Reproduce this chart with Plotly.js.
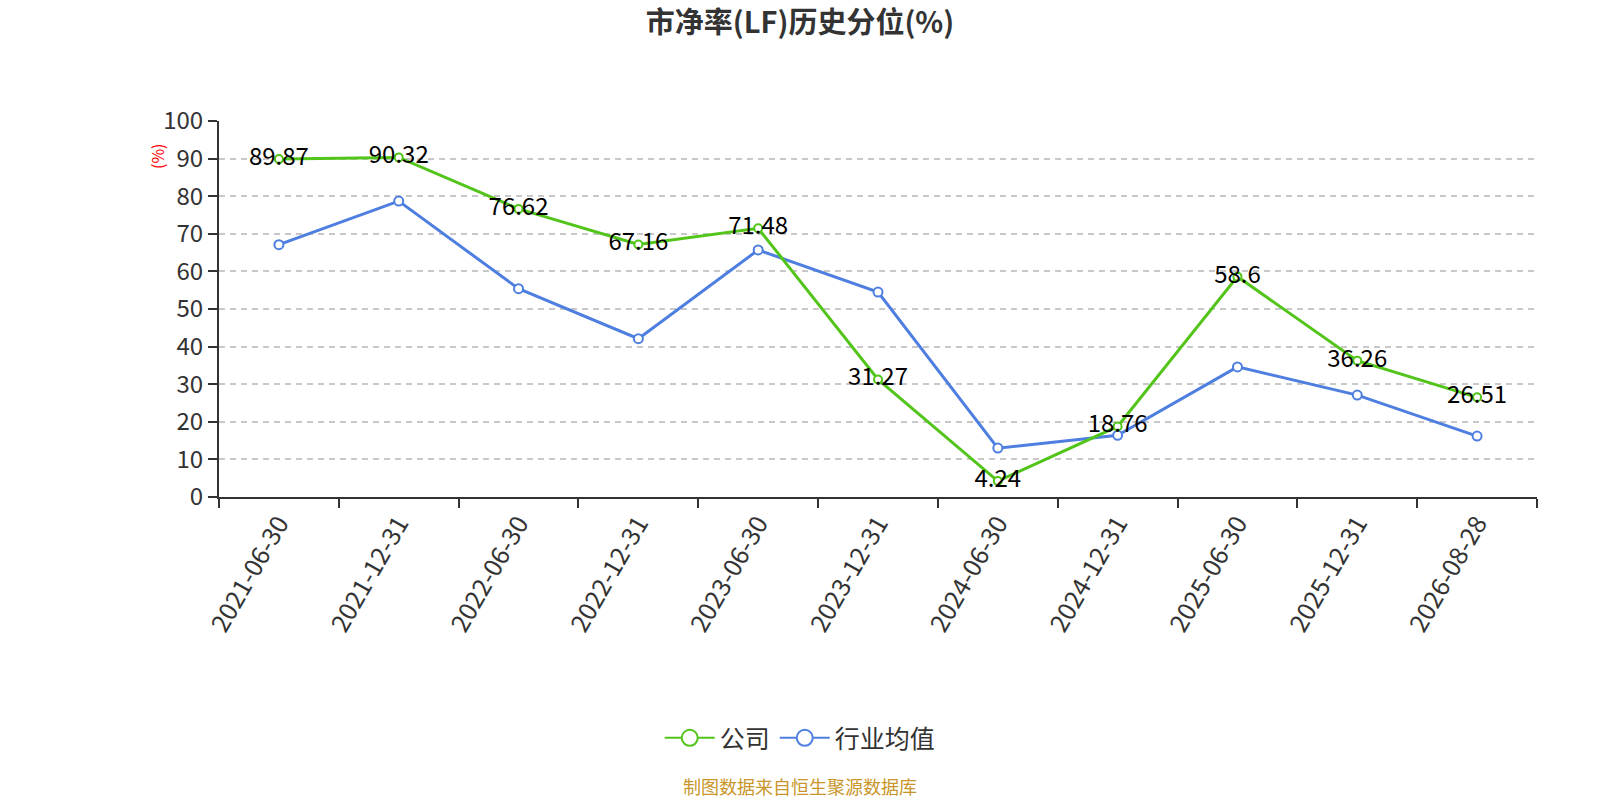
<!DOCTYPE html>
<html>
<head>
<meta charset="utf-8">
<script src="https://cdn.plot.ly/plotly-3.0.1.min.js"></script>
<style>
  html, body { margin: 0; padding: 0; background: #fff; }
  #myDiv { width: 1600px; height: 800px; }
</style>
</head>
<body>
<div id="myDiv"></div>
<script>
var dates = ['2021-06-30', '2021-12-31', '2022-06-30', '2022-12-31', '2023-06-30', '2023-12-31',
             '2024-06-30', '2024-12-31', '2025-06-30', '2025-12-31', '2026-08-28'];
var company = [89.87, 90.32, 76.62, 67.16, 71.48, 31.27, 4.24, 18.76, 58.6, 36.26, 26.51];
var industry = [67.1, 78.7, 55.4, 42.1, 65.7, 54.5, 13.0, 16.4, 34.6, 27.1, 16.2];

var font = 'Noto Sans CJK SC, Noto Sans, sans-serif';
var green = '#52c41a';
var blue = '#4e7fe0';

// the lines themselves, kept out of the legend
var trace1 = {
  x: dates,
  y: company,
  name: '公司',
  type: 'scatter',
  mode: 'lines+markers+text',
  text: company.map(String),
  textposition: 'middle center',
  textfont: { family: font, size: 24, color: '#000' },
  line: { color: green, width: 3 },
  marker: { symbol: 'circle', size: 8, color: '#fff', line: { color: green, width: 2 } },
  cliponaxis: false,
  showlegend: false
};

var trace2 = {
  x: dates,
  y: industry,
  name: '行业均值',
  type: 'scatter',
  mode: 'lines+markers',
  line: { color: blue, width: 3 },
  marker: { symbol: 'circle', size: 9, color: '#fff', line: { color: blue, width: 2 } },
  cliponaxis: false,
  showlegend: false
};

// legend entries with bigger symbols
var leg1 = {
  x: [null], y: [null], name: '公司', type: 'scatter', mode: 'lines+markers',
  line: { color: green, width: 2 },
  marker: { symbol: 'circle', size: 16, color: '#fff', line: { color: green, width: 2 } }
};
var leg2 = {
  x: [null], y: [null], name: '行业均值', type: 'scatter', mode: 'lines+markers',
  line: { color: blue, width: 2 },
  marker: { symbol: 'circle', size: 16, color: '#fff', line: { color: blue, width: 2 } }
};

var data = [trace2, trace1, leg1, leg2];

var layout = {
  width: 1600,
  height: 800,
  paper_bgcolor: '#fff',
  plot_bgcolor: '#fff',
  font: { family: font, color: '#333' },
  margin: { l: 219, r: 63, t: 121, b: 303 },
  title: {
    text: '<b>市净率(LF)历史分位(%)</b>',
    font: { family: font, size: 29, color: '#333' },
    x: 0.5,
    xanchor: 'center',
    y: 0.972,
    yanchor: 'middle'
  },
  xaxis: {
    type: 'category',
    range: [-0.5, 10.5],
    tickson: 'boundaries',
    ticks: 'outside',
    ticklen: 9,
    tickwidth: 2,
    tickcolor: '#333',
    tickangle: -60,
    tickfont: { family: font, size: 25, color: '#333' },
    showline: true,
    linecolor: '#333',
    linewidth: 2,
    showgrid: false,
    zeroline: false,
    fixedrange: true
  },
  yaxis: {
    range: [0, 100],
    dtick: 10,
    ticks: 'outside',
    ticklen: 9,
    tickwidth: 2,
    tickcolor: '#333',
    tickfont: { family: font, size: 24, color: '#333' },
    showline: true,
    linecolor: '#333',
    linewidth: 2,
    showgrid: true,
    gridcolor: '#c8c8c8',
    gridwidth: 1.5,
    griddash: '6px,5px',
    zeroline: false,
    fixedrange: true
  },
  showlegend: true,
  legend: {
    orientation: 'h',
    x: 0.441,
    xanchor: 'center',
    y: -0.641,
    yanchor: 'middle',
    itemwidth: 50,
    font: { family: font, size: 25, color: '#333' }
  },
  annotations: [{
    text: '(%)',
    xref: 'paper',
    yref: 'paper',
    x: -0.047,
    y: 0.907,
    xanchor: 'center',
    yanchor: 'middle',
    textangle: -90,
    showarrow: false,
    font: { family: font, size: 16, color: '#ff0000' }
  }, {
    text: '制图数据来自恒生聚源数据库',
    xref: 'paper',
    yref: 'paper',
    x: 0.441,
    y: -0.768,
    xanchor: 'center',
    yanchor: 'middle',
    showarrow: false,
    font: { family: font, size: 18, color: '#c8962a' }
  }]
};

Plotly.newPlot('myDiv', data, layout, { displayModeBar: false });
</script>
</body>
</html>
